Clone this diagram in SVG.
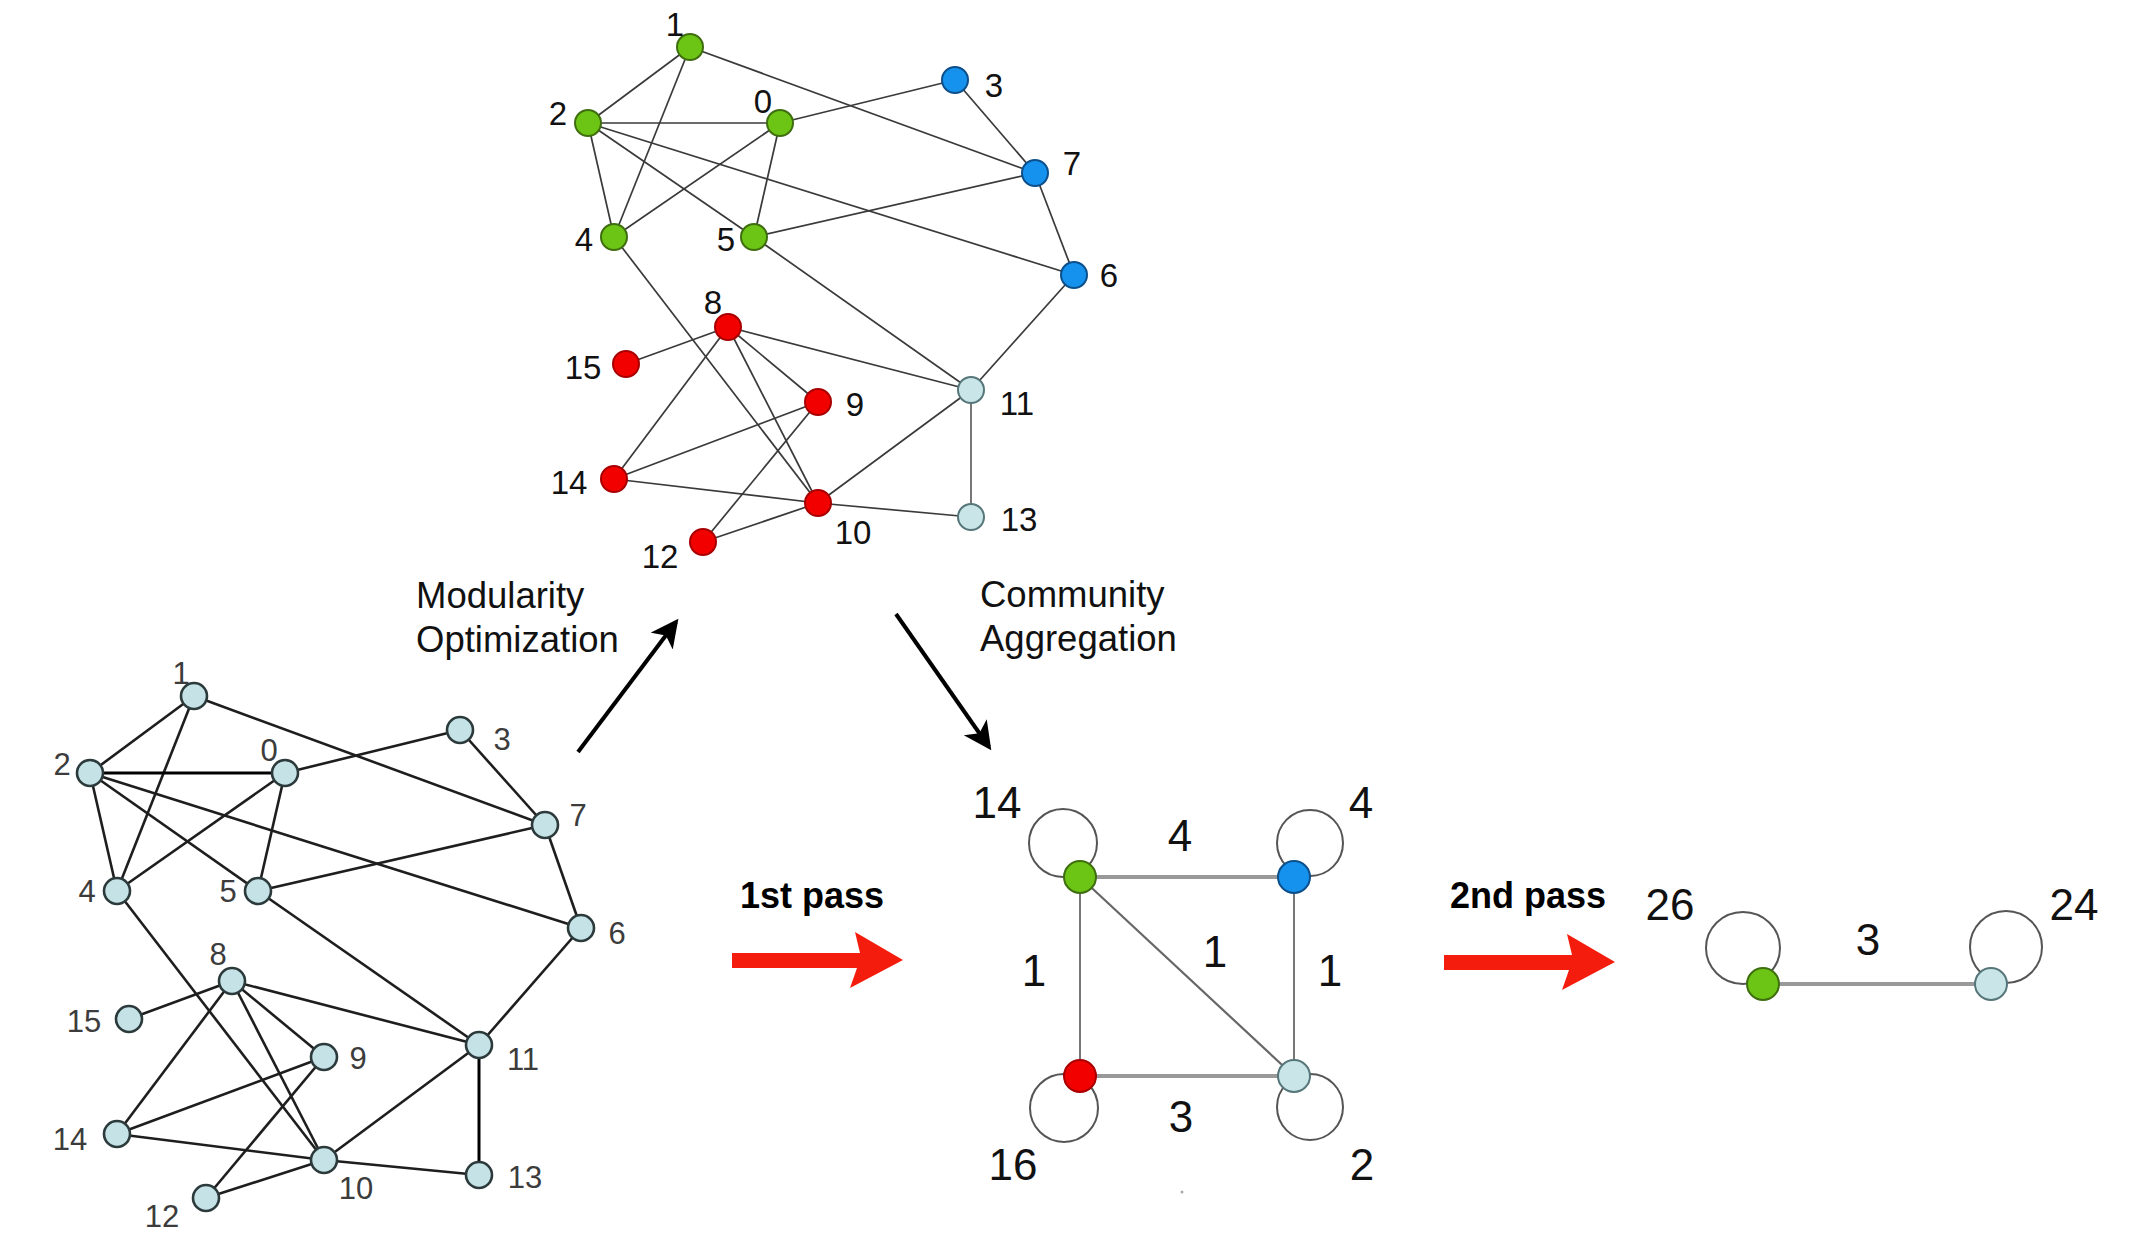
<svg xmlns="http://www.w3.org/2000/svg" width="2133" height="1250" viewBox="0 0 2133 1250">
<style>
.bg{fill:#ffffff}
.e1{stroke:#3a3a3a;stroke-width:1.7;fill:none}
.e2{stroke:#1e1e1e;stroke-width:2.6;fill:none}
.ce{stroke:#8a8a8a;fill:none}
.loop{stroke:#555;stroke-width:2;fill:none}
.g{fill:#6cc414;stroke:#3f6e10;stroke-width:2}
.b{fill:#1592ee;stroke:#0c4f8a;stroke-width:2}
.r{fill:#f20000;stroke:#a80000;stroke-width:2}
.l{fill:#c9e5e8;stroke:#56767a;stroke-width:2}
.lb{fill:#c5e2e6;stroke:#2c3a3c;stroke-width:2.6}
.t1{font-family:"Liberation Sans",Arial,sans-serif;font-size:33px;fill:#111;text-anchor:middle}
.t2{font-family:"Liberation Sans",Arial,sans-serif;font-size:31px;fill:#3c3c3c;text-anchor:middle}
.t3{font-family:"Liberation Sans",Arial,sans-serif;font-size:44px;fill:#111;text-anchor:middle}
.cap{font-family:"Liberation Sans",Arial,sans-serif;font-size:36.5px;fill:#111}
.bold{font-family:"Liberation Sans",Arial,sans-serif;font-size:36px;font-weight:bold;fill:#000}
.arr{stroke:#000;stroke-width:4;fill:none}
.red{fill:#f41c0c}
</style>
<defs>
<marker id="ah" markerWidth="9" markerHeight="9" refX="6" refY="3.5" orient="auto" markerUnits="strokeWidth">
<path d="M0,0 L7,3.5 L0,7 L1.8,3.5 Z" fill="#000"/>
</marker>
</defs>
<rect class="bg" x="0" y="0" width="2133" height="1250"/>

<g id="connectors">
<g id="top-edges">
<line class="e1" x1="690" y1="47" x2="588" y2="123"/>
<line class="e1" x1="690" y1="47" x2="614" y2="237"/>
<line class="e1" x1="690" y1="47" x2="1035" y2="173"/>
<line class="e1" x1="588" y1="123" x2="780" y2="123"/>
<line class="e1" x1="588" y1="123" x2="614" y2="237"/>
<line class="e1" x1="588" y1="123" x2="754" y2="237"/>
<line class="e1" x1="588" y1="123" x2="1074" y2="275"/>
<line class="e1" x1="780" y1="123" x2="955" y2="80"/>
<line class="e1" x1="780" y1="123" x2="614" y2="237"/>
<line class="e1" x1="780" y1="123" x2="754" y2="237"/>
<line class="e1" x1="955" y1="80" x2="1035" y2="173"/>
<line class="e1" x1="1035" y1="173" x2="754" y2="237"/>
<line class="e1" x1="1035" y1="173" x2="1074" y2="275"/>
<line class="e1" x1="614" y1="237" x2="818" y2="503"/>
<line class="e1" x1="754" y1="237" x2="971" y2="390"/>
<line class="e1" x1="1074" y1="275" x2="971" y2="390"/>
<line class="e1" x1="728" y1="327" x2="626" y2="364"/>
<line class="e1" x1="728" y1="327" x2="614" y2="479"/>
<line class="e1" x1="728" y1="327" x2="818" y2="402"/>
<line class="e1" x1="728" y1="327" x2="818" y2="503"/>
<line class="e1" x1="728" y1="327" x2="971" y2="390"/>
<line class="e1" x1="818" y1="402" x2="614" y2="479"/>
<line class="e1" x1="818" y1="402" x2="703" y2="542"/>
<line class="e1" x1="614" y1="479" x2="818" y2="503"/>
<line class="e1" x1="818" y1="503" x2="971" y2="390"/>
<line class="e1" x1="818" y1="503" x2="971" y2="517"/>
<line class="e1" x1="818" y1="503" x2="703" y2="542"/>
<line class="e1" x1="971" y1="390" x2="971" y2="517" style="stroke:#777;stroke-width:2"/>
</g>
<g id="bottom-edges">
<line class="e2" x1="194" y1="696" x2="90" y2="773"/>
<line class="e2" x1="194" y1="696" x2="117" y2="891"/>
<line class="e2" x1="194" y1="696" x2="545" y2="825"/>
<line class="e2" x1="90" y1="773" x2="285" y2="773" style="stroke:#000;stroke-width:3"/>
<line class="e2" x1="90" y1="773" x2="117" y2="891"/>
<line class="e2" x1="90" y1="773" x2="258" y2="891"/>
<line class="e2" x1="90" y1="773" x2="581" y2="928"/>
<line class="e2" x1="285" y1="773" x2="460" y2="730"/>
<line class="e2" x1="285" y1="773" x2="117" y2="891"/>
<line class="e2" x1="285" y1="773" x2="258" y2="891"/>
<line class="e2" x1="460" y1="730" x2="545" y2="825"/>
<line class="e2" x1="545" y1="825" x2="258" y2="891"/>
<line class="e2" x1="545" y1="825" x2="581" y2="928"/>
<line class="e2" x1="117" y1="891" x2="324" y2="1160"/>
<line class="e2" x1="258" y1="891" x2="479" y2="1045"/>
<line class="e2" x1="581" y1="928" x2="479" y2="1045"/>
<line class="e2" x1="232" y1="981" x2="129" y2="1019"/>
<line class="e2" x1="232" y1="981" x2="117" y2="1134"/>
<line class="e2" x1="232" y1="981" x2="324" y2="1057"/>
<line class="e2" x1="232" y1="981" x2="324" y2="1160"/>
<line class="e2" x1="232" y1="981" x2="479" y2="1045"/>
<line class="e2" x1="324" y1="1057" x2="117" y2="1134"/>
<line class="e2" x1="324" y1="1057" x2="206" y2="1198"/>
<line class="e2" x1="117" y1="1134" x2="324" y2="1160"/>
<line class="e2" x1="324" y1="1160" x2="479" y2="1045"/>
<line class="e2" x1="324" y1="1160" x2="479" y2="1175"/>
<line class="e2" x1="324" y1="1160" x2="206" y2="1198"/>
<line class="e2" x1="479" y1="1045" x2="479" y2="1175" style="stroke:#000;stroke-width:3"/>
</g>
<g id="community-edges">
<line class="ce" x1="1080" y1="877" x2="1294" y2="877" style="stroke-width:4;stroke:#999"/>
<line class="ce" x1="1080" y1="1076" x2="1294" y2="1076" style="stroke-width:4;stroke:#999"/>
<line class="ce" x1="1080" y1="877" x2="1080" y2="1076" style="stroke-width:2;stroke:#777"/>
<line class="ce" x1="1294" y1="877" x2="1294" y2="1076" style="stroke-width:2;stroke:#777"/>
<line class="ce" x1="1080" y1="877" x2="1294" y2="1076" style="stroke-width:2.2;stroke:#666"/>
<circle class="loop" cx="1063" cy="843" r="34"/>
<circle class="loop" cx="1310" cy="843" r="33"/>
<circle class="loop" cx="1064" cy="1108" r="34"/>
<circle class="loop" cx="1310" cy="1107" r="33"/>
</g>
<g id="final-edges">
<line class="ce" x1="1763" y1="984" x2="1991" y2="984" style="stroke-width:4;stroke:#999"/>
<ellipse class="loop" cx="1743" cy="948" rx="37" ry="36"/>
<ellipse class="loop" cx="2006" cy="947" rx="36" ry="36"/>
</g>
<line class="arr" x1="578" y1="752" x2="676" y2="622" marker-end="url(#ah)"/>
<line class="arr" x1="896" y1="614" x2="989" y2="747" marker-end="url(#ah)"/>
<polygon class="red" points="732,953 860,953 855,932 903,960 850,988 857,968 732,968"/>
<polygon class="red" points="1444,955 1572,955 1567,934 1615,962 1562,990 1569,970 1444,970"/>
</g>

<g id="top-nodes">
<g id="t0"><circle class="g" cx="780" cy="123" r="13"/><text class="t1" x="763" y="113">0</text></g>
<g id="t1"><circle class="g" cx="690" cy="47" r="13"/><text class="t1" x="675" y="36">1</text></g>
<g id="t2"><circle class="g" cx="588" cy="123" r="13"/><text class="t1" x="558" y="125">2</text></g>
<g id="t3"><circle class="b" cx="955" cy="80" r="13"/><text class="t1" x="994" y="97">3</text></g>
<g id="t4"><circle class="g" cx="614" cy="237" r="13"/><text class="t1" x="584" y="251">4</text></g>
<g id="t5"><circle class="g" cx="754" cy="237" r="13"/><text class="t1" x="726" y="251">5</text></g>
<g id="t6"><circle class="b" cx="1074" cy="275" r="13"/><text class="t1" x="1109" y="287">6</text></g>
<g id="t7"><circle class="b" cx="1035" cy="173" r="13"/><text class="t1" x="1072" y="175">7</text></g>
<g id="t8"><circle class="r" cx="728" cy="327" r="13"/><text class="t1" x="713" y="314">8</text></g>
<g id="t9"><circle class="r" cx="818" cy="402" r="13"/><text class="t1" x="855" y="416">9</text></g>
<g id="t10"><circle class="r" cx="818" cy="503" r="13"/><text class="t1" x="853" y="544">10</text></g>
<g id="t11"><circle class="l" cx="971" cy="390" r="13"/><text class="t1" x="1017" y="415">11</text></g>
<g id="t12"><circle class="r" cx="703" cy="542" r="13"/><text class="t1" x="660" y="568">12</text></g>
<g id="t13"><circle class="l" cx="971" cy="517" r="13"/><text class="t1" x="1019" y="531">13</text></g>
<g id="t14"><circle class="r" cx="614" cy="479" r="13"/><text class="t1" x="569" y="494">14</text></g>
<g id="t15"><circle class="r" cx="626" cy="364" r="13"/><text class="t1" x="583" y="379">15</text></g>
</g>

<g id="bottom-nodes">
<g id="b0"><circle class="lb" cx="285" cy="773" r="13"/><text class="t2" x="269" y="761">0</text></g>
<g id="b1"><circle class="lb" cx="194" cy="696" r="13"/><text class="t2" x="181" y="684">1</text></g>
<g id="b2"><circle class="lb" cx="90" cy="773" r="13"/><text class="t2" x="62" y="775">2</text></g>
<g id="b3"><circle class="lb" cx="460" cy="730" r="13"/><text class="t2" x="502" y="750">3</text></g>
<g id="b4"><circle class="lb" cx="117" cy="891" r="13"/><text class="t2" x="87" y="902">4</text></g>
<g id="b5"><circle class="lb" cx="258" cy="891" r="13"/><text class="t2" x="228" y="902">5</text></g>
<g id="b6"><circle class="lb" cx="581" cy="928" r="13"/><text class="t2" x="617" y="944">6</text></g>
<g id="b7"><circle class="lb" cx="545" cy="825" r="13"/><text class="t2" x="578" y="826">7</text></g>
<g id="b8"><circle class="lb" cx="232" cy="981" r="13"/><text class="t2" x="218" y="965">8</text></g>
<g id="b9"><circle class="lb" cx="324" cy="1057" r="13"/><text class="t2" x="358" y="1069">9</text></g>
<g id="b10"><circle class="lb" cx="324" cy="1160" r="13"/><text class="t2" x="356" y="1199">10</text></g>
<g id="b11"><circle class="lb" cx="479" cy="1045" r="13"/><text class="t2" x="523" y="1070">11</text></g>
<g id="b12"><circle class="lb" cx="206" cy="1198" r="13"/><text class="t2" x="162" y="1227">12</text></g>
<g id="b13"><circle class="lb" cx="479" cy="1175" r="13"/><text class="t2" x="525" y="1188">13</text></g>
<g id="b14"><circle class="lb" cx="117" cy="1134" r="13"/><text class="t2" x="70" y="1150">14</text></g>
<g id="b15"><circle class="lb" cx="129" cy="1019" r="13"/><text class="t2" x="84" y="1032">15</text></g>
</g>

<g id="community-nodes">
<g id="c-green"><circle class="g" cx="1080" cy="877" r="16"/><text class="t3" x="997" y="818">14</text></g>
<g id="c-blue"><circle class="b" cx="1294" cy="877" r="16"/><text class="t3" x="1361" y="818">4</text></g>
<g id="c-red"><circle class="r" cx="1080" cy="1076" r="16"/><text class="t3" x="1013" y="1180">16</text></g>
<g id="c-light"><circle class="l" cx="1294" cy="1076" r="16"/><text class="t3" x="1362" y="1180">2</text></g>
<text class="t3" x="1180" y="851">4</text>
<text class="t3" x="1034" y="986">1</text>
<text class="t3" x="1215" y="967">1</text>
<text class="t3" x="1330" y="986">1</text>
<text class="t3" x="1181" y="1132">3</text>
<circle cx="1182" cy="1192" r="1.5" fill="#aaa"/>
</g>

<g id="final-nodes">
<g id="f-green"><circle class="g" cx="1763" cy="984" r="16"/><text class="t3" x="1670" y="920">26</text></g>
<g id="f-light"><circle class="l" cx="1991" cy="984" r="16"/><text class="t3" x="2074" y="920">24</text></g>
<text class="t3" x="1868" y="955">3</text>
</g>

<g id="captions">
<text class="cap" x="416" y="608">Modularity</text>
<text class="cap" x="416" y="652">Optimization</text>
<text class="cap" x="980" y="607">Community</text>
<text class="cap" x="980" y="651">Aggregation</text>
<text class="bold" x="740" y="908">1st pass</text>
<text class="bold" x="1450" y="908">2nd pass</text>
</g>
</svg>
